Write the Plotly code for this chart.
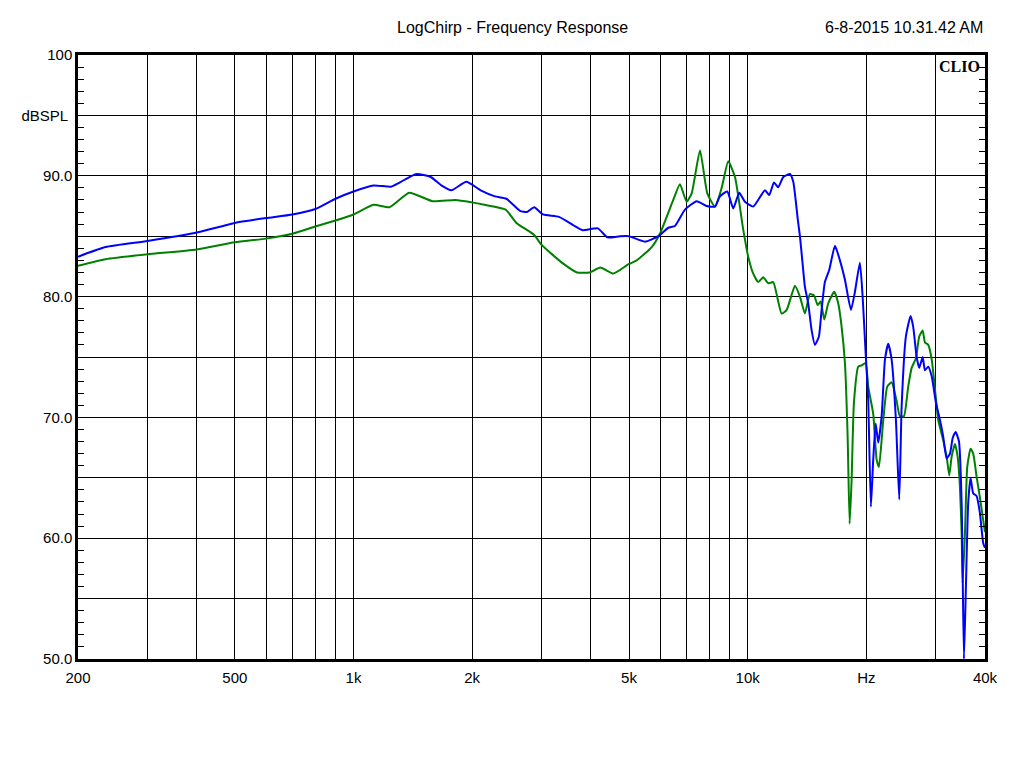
import plotly.graph_objects as go

# ---- data ----
freq_blue = [200, 235, 300, 400, 500, 600, 700, 800, 900, 1000, 1124, 1245, 1302, 1444, 1570, 1671, 1771, 1933,
             2102, 2285, 2442, 2644, 2754, 2874, 3024, 3322, 3616, 3810, 4169, 4408, 4742, 5000, 5488, 5932,
             6289, 6540, 6932, 7422, 7870, 8260, 8505, 8875, 9192, 9520, 9840, 10330, 11060, 11340, 11660,
             11950, 12310, 12800, 13050, 13410, 13570, 13780, 13970, 14240, 14530, 14810, 15160, 15400, 15700,
             16100, 16650, 17140, 17650, 18280, 18710, 19260, 19570, 19920, 20220, 20540, 20820, 21120, 21440,
             21870, 22300, 22730, 23180, 23770, 24240, 24580, 25200, 25900, 26300, 26830, 27240, 27790, 28170,
             28710, 29300, 30000, 30740, 31340, 31970, 32600, 33120, 33700, 34360, 34900, 35370, 35780, 36260,
             36770, 37340, 38080, 38820, 39580, 40000]
db_blue = [83.3, 84.1, 84.6, 85.3, 86.1, 86.5, 86.8, 87.25, 88.1, 88.7, 89.2, 89.1, 89.4, 90.15, 89.9, 89.2, 88.8,
           89.5, 88.8, 88.3, 88.1, 87.1, 87.0, 87.4, 86.8, 86.6, 85.9, 85.5, 85.65, 84.9, 85.0, 85.0, 84.55, 85.0,
           85.7, 85.85, 87.2, 87.9, 87.5, 87.45, 88.3, 88.7, 87.3, 88.6, 87.85, 87.45, 88.8, 88.4, 89.45, 89.05,
           89.9, 90.15, 89.5, 86.3, 85.0, 82.75, 80.8, 79.45, 77.2, 76.0, 76.7, 78.9, 81.2, 82.2, 84.2, 83.0, 81.4,
           78.9, 80.4, 82.8, 80.0, 75.3, 71.4, 62.6, 66.5, 69.5, 67.9, 70.1, 74.8, 76.1, 74.8, 69.8, 63.2, 70.9,
           76.7, 78.4, 77.5, 75.0, 74.1, 75.0, 73.9, 74.2, 73.4, 71.3, 69.8, 68.4, 66.6, 67.0, 68.3, 68.8, 68.0,
           62.9, 50.0, 56.0, 62.9, 65.0, 63.7, 63.5, 62.1, 59.6, 59.2]

freq_green = [200, 235, 300, 400, 500, 600, 700, 800, 900, 1000, 1124, 1234, 1385, 1586, 1816, 1995, 2147, 2432,
              2590, 2874, 2996, 3398, 3690, 3971, 4229, 4550, 4742, 5000, 5230, 5709, 5990, 6474, 6731, 7000,
              7210, 7568, 7898, 8260, 8590, 8928, 9284, 9748, 10030, 10330, 10640, 10950, 11280, 11610, 12190,
              12560, 13180, 13570, 13970, 14380, 14730, 15050, 15310, 15640, 16010, 16580, 16970, 17310, 17650,
              17930, 18140, 18350, 18600, 19080, 19460, 19920, 20220, 20820, 21240, 21530, 22080, 22600, 23180,
              23860, 24330, 24910, 25540, 26060, 26720, 27240, 27790, 28170, 28710, 29300, 30000, 30430, 31340,
              31970, 32460, 32920, 33560, 34090, 34540, 34900, 35100, 35580, 36060, 36770, 37340, 38080, 38820,
              39580, 40000]
db_green = [82.55, 83.1, 83.5, 83.9, 84.5, 84.8, 85.2, 85.8, 86.3, 86.8, 87.6, 87.4, 88.6, 87.9, 88.0, 87.8, 87.6,
            87.2, 86.1, 85.1, 84.3, 82.75, 82.0, 82.0, 82.4, 81.9, 82.2, 82.7, 83.0, 84.1, 85.2, 88.0, 89.3, 87.85,
            88.55, 92.1, 88.55, 87.45, 89.0, 91.2, 89.9, 85.5, 83.3, 81.9, 81.2, 81.6, 81.1, 81.2, 78.6, 78.9, 80.9,
            80.0, 78.6, 80.2, 80.1, 79.3, 79.6, 78.1, 79.45, 80.4, 79.45, 77.5, 74.5, 68.4, 61.2, 64.8, 71.2, 74.2,
            74.3, 74.5, 72.55, 70.3, 66.5, 65.9, 69.8, 72.55, 72.9, 71.4, 70.1, 70.1, 72.55, 74.1, 74.9, 76.7, 77.2,
            76.2, 76.0, 74.8, 71.7, 69.8, 68.1, 66.75, 65.2, 66.75, 67.8, 66.75, 64.3, 60.4, 56.3, 60.4, 65.9, 67.4,
            67.0, 65.1, 63.4, 61.5, 60.5]

x_grid = [200, 300, 400, 500, 600, 700, 800, 900, 1000, 2000, 3000, 4000, 5000, 6000, 7000, 8000, 9000,
          10000, 20000, 30000, 40000]
x_labels = {200: "200", 500: "500", 1000: "1k", 2000: "2k", 5000: "5k", 10000: "10k", 20000: "Hz", 40000: "40k"}
y_grid = [50, 55, 60, 65, 70, 75, 80, 85, 90, 95, 100]
y_labels = ["50.0", "", "60.0", "", "70.0", "", "80.0", "", "90.0", "dBSPL\u00a0", "100"]

title_text = "LogChirp - Frequency Response"
date_text = "6-8-2015 10.31.42 AM"
brand_text = "CLIO"

FONT = "Liberation Sans, Arial, sans-serif"

fig = go.Figure()
fig.add_trace(go.Scatter(x=freq_green, y=db_green, mode="lines",
                         line=dict(color="#008000", width=2, shape="spline", smoothing=0.5),
                         showlegend=False))
fig.add_trace(go.Scatter(x=freq_blue, y=db_blue, mode="lines",
                         line=dict(color="#0000FF", width=2, shape="spline", smoothing=0.5),
                         showlegend=False))

# page body has an 8px margin: figure is 1016x760 so the plot area lands at x 78..985, y 55..659
fig.update_layout(
    width=1016, height=760,
    margin=dict(l=70, r=39, t=47, b=109),
    paper_bgcolor="white", plot_bgcolor="white",
    font=dict(family=FONT, size=15, color="black"),
    xaxis=dict(type="log", range=[2.30103, 4.60206],
               tickmode="array", tickvals=x_grid,
               ticktext=[x_labels.get(v, "") for v in x_grid],
               showgrid=True, gridcolor="black", gridwidth=1,
               showline=True, linecolor="black", linewidth=2.5, mirror=True,
               ticks="", ticklabelstandoff=3, zeroline=False, tickfont=dict(family=FONT, size=15)),
    yaxis=dict(range=[50, 100], tickmode="array", tickvals=y_grid, ticktext=y_labels,
               showgrid=True, gridcolor="black", gridwidth=1,
               showline=True, linecolor="black", linewidth=2.5, mirror="ticks",
               ticks="inside", ticklen=6, tickcolor="black",
               minor=dict(dtick=1, ticks="inside", ticklen=6, tickcolor="black", showgrid=False),
               zeroline=False, tickfont=dict(family=FONT, size=15)),
    annotations=[
        dict(text=title_text, xref="paper", yref="paper", x=(512 - 78) / 907, y=(659 - 28) / 604,
             xanchor="center", yanchor="middle", showarrow=False, font=dict(family=FONT, size=16)),
        dict(text=date_text, xref="paper", yref="paper", x=1.0, y=(659 - 28) / 604,
             xanchor="right", yanchor="middle", showarrow=False, font=dict(family=FONT, size=16)),
        dict(text="<b>" + brand_text + "</b>", xref="paper", yref="paper", x=1.0, y=1.0, xshift=-3, yshift=-1,
             xanchor="right", yanchor="top", showarrow=False,
             font=dict(family="Liberation Serif, Times New Roman, serif", size=16)),
    ],
)

fig.write_html("out.html")
